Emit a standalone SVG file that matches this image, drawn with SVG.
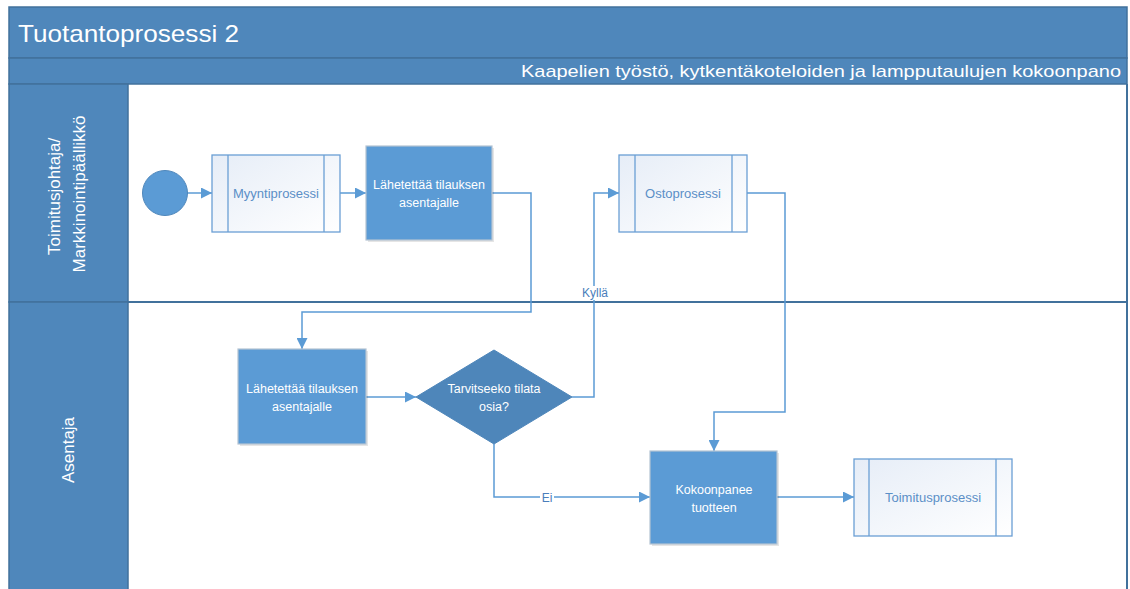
<svg xmlns="http://www.w3.org/2000/svg" width="1130" height="589" viewBox="0 0 1130 589">
  <defs>
    <style>
      .band { fill: #4F87BB; stroke: #41719C; stroke-width: 1.5; }
      .lanebody { fill: #FFFFFF; }
      .hdr { fill: #FFFFFF; font-family: "Liberation Sans", Arial, sans-serif; }
      .task { fill: #5B9BD5; stroke: #B4C3D3; stroke-width: 1.2; }
      .shadow { fill: #000000; opacity: 0.10; }
      .sub { fill: url(#subfill); stroke: #6A9FD4; stroke-width: 1.3; }
      .bar { stroke: #6A9FD4; stroke-width: 1.3; }
      .gw { fill: #4E86BA; stroke: #4E86BA; stroke-width: 1; }
      .start { fill: #5B9BD5; stroke: #4F87BB; stroke-width: 1; }
      .tw { fill: #FFFFFF; font-family: "Liberation Sans", Arial, sans-serif; font-size: 12.5px; text-anchor: middle; }
      .tb { fill: #5B8FC7; font-family: "Liberation Sans", Arial, sans-serif; font-size: 13px; text-anchor: middle; }
      .lbl { fill: #4A7EBB; font-family: "Liberation Sans", Arial, sans-serif; font-size: 12px; text-anchor: middle; }
      .flow { fill: none; stroke: #5B9BD5; stroke-width: 1.5; marker-end: url(#arrow); }
    </style>
    <linearGradient id="subfill" x1="0" y1="0" x2="1" y2="1">
      <stop offset="0" stop-color="#E6EDF7"/>
      <stop offset="1" stop-color="#FFFFFF"/>
    </linearGradient>
    <marker id="arrow" viewBox="0 0 10 10" refX="10" refY="5" markerWidth="11" markerHeight="11" markerUnits="userSpaceOnUse" orient="auto">
      <path d="M0,0 L10,5 L0,10 z" fill="#5B9BD5"/>
    </marker>
  </defs>

  <rect x="0" y="0" width="1130" height="589" fill="#FFFFFF"/>

  <!-- pool frame -->
  <g id="pool">
    <rect class="band" x="9" y="7" width="1118" height="51"/>
    <text class="hdr" x="18" y="42" font-size="24" textLength="221" lengthAdjust="spacingAndGlyphs">Tuotantoprosessi 2</text>
    <rect class="band" x="9" y="58" width="1118" height="26"/>
    <text class="hdr" x="1121" y="77" font-size="17" text-anchor="end" textLength="600" lengthAdjust="spacingAndGlyphs">Kaapelien työstö, kytkentäkoteloiden ja lampputaulujen kokoonpano</text>
    <rect class="lanebody" x="128" y="85" width="998" height="504"/>
    <line x1="1127" y1="84" x2="1127" y2="589" stroke="#41719C" stroke-width="2"/>
  </g>

  <!-- lanes -->
  <g id="lane-johto">
    <rect class="band" x="9" y="84" width="119" height="218"/>
    <text class="hdr" font-size="17" text-anchor="middle" transform="translate(60,194) rotate(-90)">
      <tspan x="0" y="0">Toimitusjohtaja/</tspan>
      <tspan x="0" y="25">Markkinointipäällikkö</tspan>
    </text>
  </g>
  <g id="lane-asentaja">
    <rect class="band" x="9" y="302" width="119" height="292"/>
    <text class="hdr" font-size="17" text-anchor="middle" transform="translate(74,450) rotate(-90)">Asentaja</text>
  </g>
  <line x1="128" y1="302" x2="1127" y2="302" stroke="#41719C" stroke-width="2"/>

  <!-- connectors -->
  <g id="connectors">
    <path class="flow" d="M187,193 L212,193"/>
    <path class="flow" d="M340,193 L366,193"/>
    <path class="flow" d="M492,193 L531,193 L531,312 L302,312 L302,349"/>
    <path class="flow" d="M366,397 L416,397"/>
    <path class="flow" d="M572,397 L594,397 L594,193 L619,193"/>
    <path class="flow" d="M747,193 L785,193 L785,412 L714,412 L714,451"/>
    <path class="flow" d="M494,444 L494,497 L650,497"/>
    <path class="flow" d="M777,497 L854,497"/>
    <rect x="580" y="286" width="30" height="14" fill="#FFFFFF"/>
    <text class="lbl" x="595" y="297">Kyllä</text>
    <rect x="540" y="490" width="14" height="14" fill="#FFFFFF"/>
    <text class="lbl" x="547" y="502">Ei</text>
  </g>

  <!-- nodes -->
  <g id="start">
    <circle class="start" cx="165" cy="193" r="22.5"/>
  </g>

  <g id="myyntiprosessi">
    <rect class="sub" x="212" y="155" width="128" height="77"/>
    <line class="bar" x1="228" y1="155" x2="228" y2="232"/>
    <line class="bar" x1="324" y1="155" x2="324" y2="232"/>
    <text class="tb" x="276" y="198">Myyntiprosessi</text>
  </g>

  <g id="lahettaa-1">
    <rect class="shadow" x="368" y="148" width="126" height="94"/>
    <rect class="task" x="366" y="146" width="126" height="94"/>
    <text class="tw" x="429" y="189">Lähetettää tilauksen</text>
    <text class="tw" x="429" y="207">asentajalle</text>
  </g>

  <g id="ostoprosessi">
    <rect class="sub" x="619" y="155" width="128" height="77"/>
    <line class="bar" x1="635" y1="155" x2="635" y2="232"/>
    <line class="bar" x1="732" y1="155" x2="732" y2="232"/>
    <text class="tb" x="683" y="198">Ostoprosessi</text>
  </g>

  <g id="lahettaa-2">
    <rect class="shadow" x="240" y="351" width="128" height="95"/>
    <rect class="task" x="238" y="349" width="128" height="95"/>
    <text class="tw" x="302" y="393">Lähetettää tilauksen</text>
    <text class="tw" x="302" y="411">asentajalle</text>
  </g>

  <g id="tarvitseeko">
    <polygon class="gw" points="494,350 572,397 494,444 416,397"/>
    <text class="tw" x="494" y="393">Tarvitseeko tilata</text>
    <text class="tw" x="494" y="411">osia?</text>
  </g>

  <g id="kokoonpanee">
    <rect class="shadow" x="652" y="453" width="127" height="93"/>
    <rect class="task" x="650" y="451" width="127" height="93"/>
    <text class="tw" x="714" y="494">Kokoonpanee</text>
    <text class="tw" x="714" y="512">tuotteen</text>
  </g>

  <g id="toimitusprosessi">
    <rect class="sub" x="854" y="459" width="158" height="77"/>
    <line class="bar" x1="869" y1="459" x2="869" y2="536"/>
    <line class="bar" x1="996" y1="459" x2="996" y2="536"/>
    <text class="tb" x="933" y="502">Toimitusprosessi</text>
  </g>
</svg>
